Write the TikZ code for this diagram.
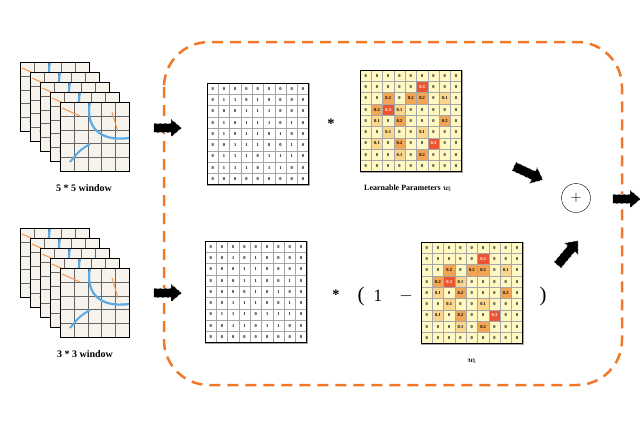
\documentclass[tikz,border=0pt]{standalone}
\usepackage{amsmath}
\usepackage{amssymb}
\usepackage{bm}
\usepackage{fontspec}
\setmainfont{Liberation Serif}
\usetikzlibrary{shapes, shapes.arrows, calc, positioning}
\definecolor{dashorange}{RGB}{240,120,40}
\definecolor{wzero}{RGB}{255,248,195}
\definecolor{wone}{RGB}{250,215,140}
\definecolor{wtwo}{RGB}{242,165,85}
\definecolor{wthree}{RGB}{236,85,50}
\definecolor{mapriver}{RGB}{90,170,230}
\definecolor{maproad}{RGB}{245,150,80}
\definecolor{mapland}{RGB}{246,243,236}
\tikzset{
  cell/.style = {draw=gray!70, line width=0.3pt, minimum size=11.3pt, inner sep=0pt, font=\fontsize{4.5}{4.5}\selectfont\bfseries},
  wcell/0/.style = {cell, fill=wzero},
  wcell/0.1/.style = {cell, fill=wone},
  wcell/0.2/.style = {cell, fill=wtwo},
  wcell/0.3/.style = {cell, fill=wthree, text=white},
  blockarrow/.style = {single arrow, draw=white, densely dashed, line width=0.4pt, fill=black, minimum height=28pt, minimum width=18pt, single arrow head extend=3pt, single arrow tip angle=80, inner sep=3pt},
  winlabel/.style = {font=\bfseries},
}
% one map tile of a stack
\newcommand{\maptile}[2]{%
  \fill[mapland] (#1,#2) rectangle ++(69,69);
  \foreach \g in {14,28,41,55} {
    \draw[gray!80!black, line width=0.7pt] (#1+\g,#2) -- ++(0,69);
    \draw[gray!80!black, line width=0.7pt] (#1,#2+\g) -- ++(69,0);
  }
  \draw[mapriver, line width=2.2pt] (#1+30,#2) .. controls (#1+25,#2+25) and (#1+40,#2+40) .. (#1+69,#2+36);
  \draw[mapriver, line width=2pt] (#1+30,#2+42) .. controls (#1+20,#2+48) .. (#1+10,#2+60);
  \draw[maproad, line width=1pt] (#1+2,#2+6) -- (#1+20,#2+14);
  \draw[maproad, line width=1pt] (#1+52,#2+10) -- (#1+58,#2+30);
  \draw[black, line width=1pt] (#1,#2) rectangle ++(69,69);
}
\newcommand{\binmat}[4]{%
  \foreach \row [count=\r] in {#4} {
    \foreach \v [count=\c] in \row {
      \node[cell] (#1-\r-\c) at (#2+\c*11.3-5.65, #3+\r*11.3-5.65) {\v};
    }
  }
  \draw[line width=1pt] (#2,#3) rectangle ++(101.7,101.7);
}
\newcommand{\weightmat}[3]{%
  \foreach \row [count=\r] in {{0,0,0,0,0,0,0,0,0},{0,0,0,0,0,0.3,0,0,0},{0,0,0.2,0,0.2,0.2,0,0.1,0},{0,0.2,0.3,0.1,0,0,0,0,0},{0,0.1,0,0.2,0,0,0,0.2,0},{0,0,0.1,0,0,0.1,0,0,0},{0,0.1,0,0.2,0,0,0.3,0,0},{0,0,0,0.1,0,0.2,0,0,0},{0,0,0,0,0,0,0,0,0}} {
    \foreach \v [count=\c] in \row {
      \node[wcell/\v] (#1-\r-\c) at (#2+\c*11.3-5.65, #3+\r*11.3-5.65) {\v};
    }
  }
  \draw[line width=1pt] (#2,#3) rectangle ++(101.7,101.7);
}

\begin{document}
\begin{tikzpicture}[x=1pt, y=-1pt]
    \useasboundingbox (0,0) rectangle (640,421);

    % fusion block
    \draw[dashorange, line width=2.5pt, dash pattern=on 11pt off 7pt, rounded corners=45pt] (164,42) rectangle (622,385);

    % map stacks
    \foreach \k in {0,...,4} { \maptile{20+10*\k}{62+10*\k} }
    \node[winlabel] (label-five) at (84,188) {5 * 5 window};
    \foreach \k in {0,...,4} { \maptile{20+10*\k}{228+10*\k} }
    \node[winlabel] (label-three) at (85,354) {3 * 3 window};

    \node[blockarrow] (in-top) at (165,128) {};
    \node[blockarrow] (in-bottom) at (165,293) {};

    % top branch
    \binmat{mask-top}{207}{83}{{0,0,0,0,0,0,0,0,0},{0,1,1,0,1,0,0,0,0},{0,0,0,1,1,1,0,0,0},{0,1,0,1,1,1,0,1,0},{0,1,0,1,1,0,1,0,0},{0,0,1,1,1,0,0,1,0},{0,1,1,1,0,1,1,1,0},{0,1,1,1,0,1,1,0,0},{0,0,0,0,0,0,0,0,0}}
    \node[font=\Large\bfseries] (times-top) at (331,124) {*};
    \weightmat{w-top}{360}{70}
    \node[font=\bfseries\footnotesize] (label-w-top) at (408,188) {Learnable Parameters $\bm{w}_{\!i}$};

    % bottom branch
    \binmat{mask-bottom}{205}{241}{{0,0,0,0,0,0,0,0,0},{0,0,1,0,1,0,0,0,0},{0,0,0,1,1,0,0,0,0},{0,0,0,1,1,0,0,1,0},{0,0,0,0,1,0,1,0,0},{0,0,1,1,1,0,0,1,0},{0,1,1,1,0,1,1,1,0},{0,0,1,1,0,1,1,0,0},{0,0,0,0,0,0,0,0,0}}
    \node[font=\Large\bfseries] (times-bottom) at (336,295) {*};
    \node[font=\huge] (open-par) at (361,297) {(};
    \node[font=\LARGE] (one) at (378,296) {1};
    \node[font=\LARGE] (minus) at (406,296) {$-$};
    \weightmat{w-bottom}{421}{242}
    \node[font=\huge] (close-par) at (543,297) {)};
    \node[font=\bfseries\footnotesize] (label-w-bottom) at (472,361) {$\bm{w}_{\!i}$};

    % sum
    \node[draw, circle, minimum size=29pt, inner sep=0pt, font=\Large] (sum) at (576,198) {$+$};
    \node[blockarrow, rotate=-25, minimum height=32pt] (to-sum-top) at (526,172) {};
    \node[blockarrow, rotate=50, minimum height=32pt] (to-sum-bottom) at (566,255) {};
    \node[blockarrow] (out) at (624,199) {};
\end{tikzpicture}
\end{document}
